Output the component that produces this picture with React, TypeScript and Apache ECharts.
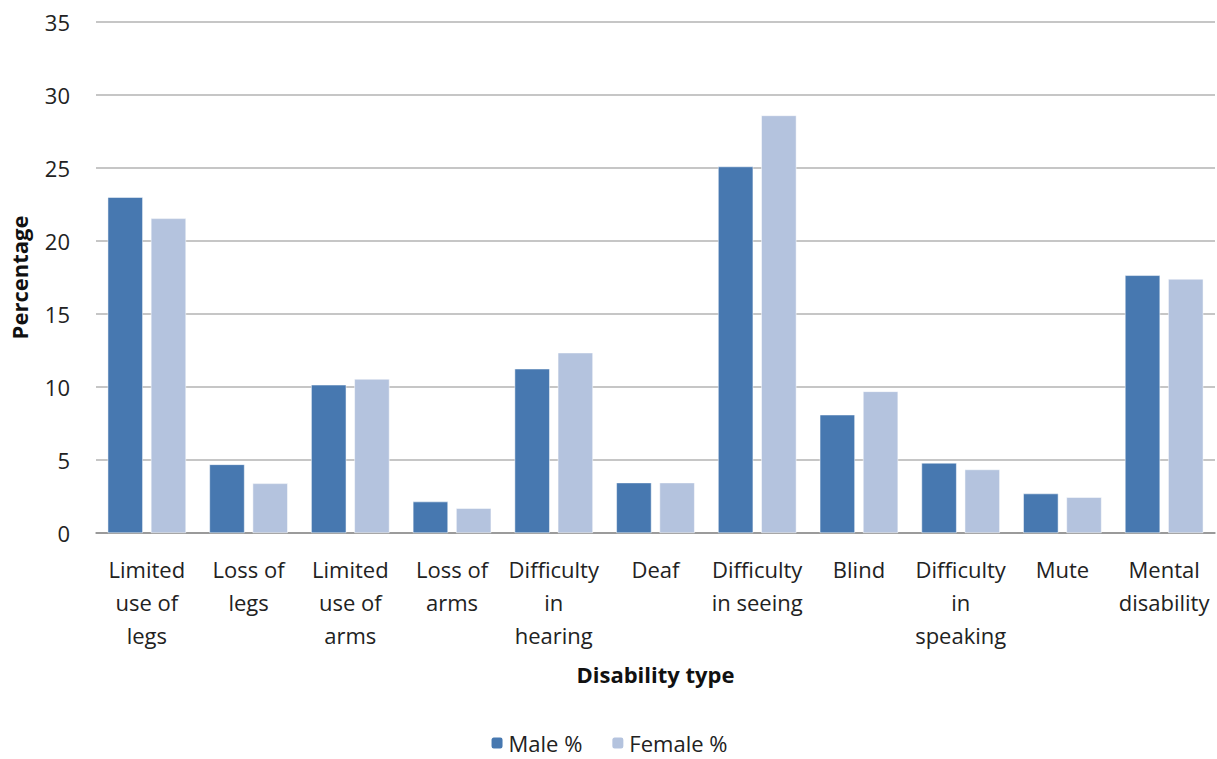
import React, { useEffect, useRef } from "react";
import * as echarts from "echarts";

const categories = [
  "Limited\nuse of\nlegs",
  "Loss of\nlegs",
  "Limited\nuse of\narms",
  "Loss of\narms",
  "Difficulty\nin\nhearing",
  "Deaf",
  "Difficulty\nin seeing",
  "Blind",
  "Difficulty\nin\nspeaking",
  "Mute",
  "Mental\ndisability",
];
const maleValues = [23.0, 4.7, 10.15, 2.15, 11.25, 3.45, 25.1, 8.1, 4.8, 2.7, 17.65];
const femaleValues = [21.55, 3.4, 10.55, 1.7, 12.35, 3.45, 28.6, 9.7, 4.35, 2.45, 17.4];
const seriesNames = ["Male %", "Female %"];

const FONT = "'Open Sans', 'Liberation Sans', sans-serif";

export default function App() {
  const ref = useRef<HTMLDivElement>(null);
  useEffect(() => {
    if (!ref.current) return;
    const chart = echarts.init(ref.current, null, { renderer: "svg" });
    chart.setOption({
      animation: false,
      backgroundColor: "#ffffff",
      textStyle: { fontFamily: FONT },
      legend: {
        bottom: 0,
        left: "center",
        itemWidth: 13,
        itemHeight: 13,
        itemGap: 28,
        textStyle: { fontFamily: FONT, fontSize: 22, color: "#222" },
        data: seriesNames,
      },
      grid: { left: 96, right: 2, top: 22, bottom: 226 },
      xAxis: {
        type: "category",
        data: categories,
        name: "Disability type",
        nameLocation: "middle",
        nameGap: 130,
        nameTextStyle: { fontFamily: FONT, fontSize: 22, fontWeight: "bold", color: "#111" },
        axisLine: { lineStyle: { color: "#8c8c8c", width: 1.5 } },
        axisTick: { show: false },
        axisLabel: {
          interval: 0,
          margin: 19,
          fontFamily: FONT,
          fontSize: 22,
          lineHeight: 33,
          color: "#222",
        },
      },
      yAxis: {
        type: "value",
        min: 0,
        max: 35,
        interval: 5,
        name: "Percentage",
        nameLocation: "middle",
        nameGap: 66,
        nameTextStyle: { fontFamily: FONT, fontSize: 22, fontWeight: "bold", color: "#111" },
        axisLine: { show: false },
        axisTick: { show: false },
        axisLabel: { margin: 26, fontFamily: FONT, fontSize: 22, color: "#222" },
        splitLine: { lineStyle: { color: "#b3b3b3", width: 1.5 } },
      },
      series: [
        {
          name: seriesNames[0],
          type: "bar",
          data: maleValues,
          barGap: "23%",
          barCategoryGap: "23%",
          itemStyle: { color: "#4778b0", borderColor: "#ffffff", borderWidth: 0.5 },
        },
        {
          name: seriesNames[1],
          type: "bar",
          data: femaleValues,
          itemStyle: { color: "#b4c3de", borderColor: "#ffffff", borderWidth: 0.5 },
        },
      ],
    });
    return () => chart.dispose();
  }, []);
  return (
    <div
      ref={ref}
      style={{ position: "fixed", left: 0, top: 0, width: 1217, height: 759 }}
    />
  );
}
